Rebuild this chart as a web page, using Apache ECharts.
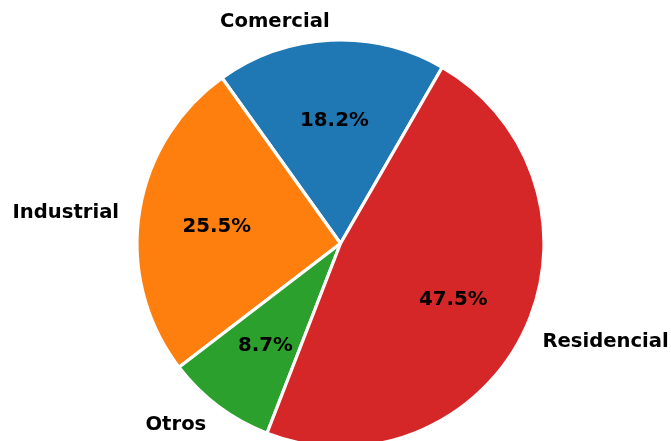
<!DOCTYPE html>
<html>
<head>
<meta charset="utf-8">
<script src="https://cdn.jsdelivr.net/npm/echarts@6/dist/echarts.min.js"></script>
<style>
  html, body { margin: 0; padding: 0; background: #fff; }
  #chart { width: 671px; height: 441px; }
</style>
</head>
<body>
<div id="chart"></div>
<script>
// sector shares, in percent, counterclockwise from 60deg
const categories = ['Comercial', 'Industrial', 'Otros', 'Residencial'];
const shares = [18.2, 25.5, 8.7, 47.5];
const colors = ['#1f77b4', '#ff7f0e', '#2ca02c', '#d62728'];

const R = 203.5;
const center = [340.5, 243.5];
const font = 'DejaVu Sans';

const chart = echarts.init(document.getElementById('chart'));

const data = categories.map((name, i) => ({
    name: name,
    value: shares[i],
    itemStyle: { color: colors[i] }
}));

chart.setOption({
    animation: false,
    series: [
        {
            type: 'pie',
            center: center,
            radius: [0, R],
            startAngle: 60,
            clockwise: false,
            avoidLabelOverlap: false,
            silent: true,
            itemStyle: {
                borderColor: '#ffffff',
                borderWidth: 3.2
            },
            label: {
                position: 'outside',
                formatter: '{b}',
                color: '#000',
                fontFamily: font,
                fontWeight: 'bold',
                fontSize: 19.6,
                distanceToLabelLine: 0,
                offset: [0, 2]
            },
            labelLine: {
                show: false,
                length: R * 0.1,
                length2: 0
            },
            data: data
        },
        {
            // transparent copy, twice 0.6R, so 'inside' labels sit at 0.6R
            type: 'pie',
            center: center,
            radius: [0, R * 1.2],
            startAngle: 60,
            clockwise: false,
            silent: true,
            itemStyle: { color: 'rgba(0,0,0,0)' },
            label: {
                position: 'inside',
                formatter: p => p.value.toFixed(1) + '%',
                color: '#000',
                fontFamily: font,
                fontWeight: 'bold',
                fontSize: 19.8,
                offset: [0, 2]
            },
            labelLine: { show: false },
            data: categories.map((name, i) => ({ name: name, value: shares[i] }))
        }
    ]
});
</script>
</body>
</html>
